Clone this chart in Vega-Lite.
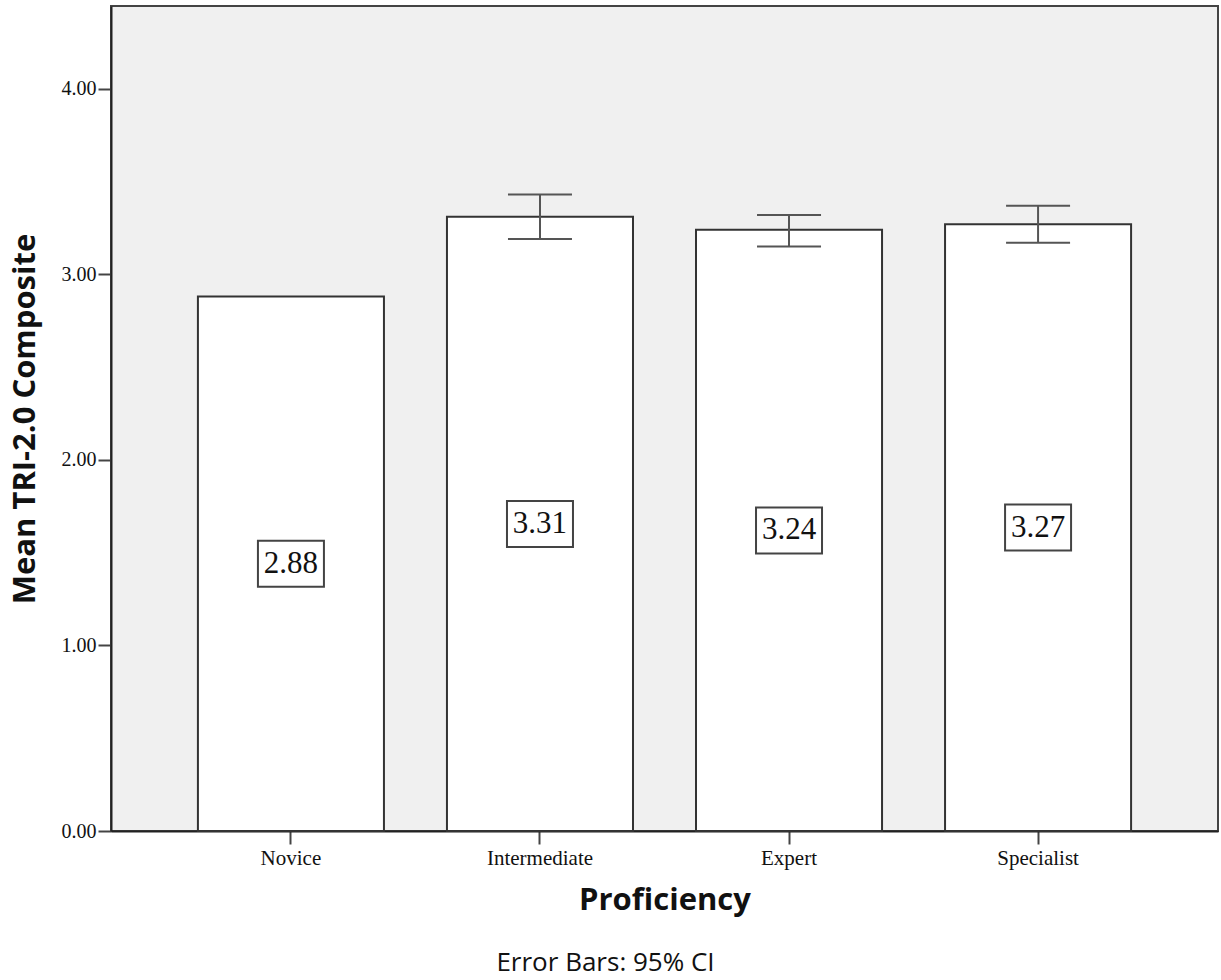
{
  "$schema": "https://vega.github.io/schema/vega-lite/v6.json",
  "autosize": {"type": "none"},
  "width": 1107,
  "height": 825,
  "padding": {"left": 111, "top": 6, "right": 3, "bottom": 149},
  "background": "white",
  "data": {"values": [
    {"Proficiency": "Novice", "mean": 2.88, "lo": null, "hi": null},
    {"Proficiency": "Intermediate", "mean": 3.31, "lo": 3.19, "hi": 3.43},
    {"Proficiency": "Expert", "mean": 3.24, "lo": 3.15, "hi": 3.32},
    {"Proficiency": "Specialist", "mean": 3.27, "lo": 3.17, "hi": 3.37}
  ]},
  "title": {
    "text": "Error Bars: 95% CI",
    "orient": "bottom",
    "anchor": "middle",
    "frame": "bounds",
    "font": "Open Sans",
    "fontSize": 26,
    "fontWeight": "normal",
    "color": "#111",
    "offset": 35,
    "dx": -8
  },
  "encoding": {
    "x": {
      "field": "Proficiency",
      "type": "nominal",
      "sort": ["Novice", "Intermediate", "Expert", "Specialist"],
      "scale": {"paddingInner": 0.253, "paddingOuter": 0.349},
      "axis": {
        "title": "Proficiency",
        "labelAngle": 0,
        "labelFont": "Liberation Serif",
        "labelFontSize": 21,
        "labelColor": "#111",
        "labelPadding": 3,
        "tickSize": 13,
        "tickWidth": 2,
        "tickColor": "#444",
        "domainColor": "#222",
        "domainWidth": 2,
        "titleFont": "Open Sans",
        "titleFontSize": 31,
        "titleFontWeight": "bold",
        "titleColor": "#111",
        "titlePadding": 17
      }
    }
  },
  "layer": [
    {
      "mark": {"type": "bar", "fill": "white", "stroke": "#333", "strokeWidth": 2},
      "encoding": {
        "y": {
          "field": "mean",
          "type": "quantitative",
          "scale": {"domain": [0, 4.446], "nice": false, "zero": true},
          "axis": {
            "title": "Mean TRI-2.0 Composite",
            "values": [0, 1, 2, 3, 4],
            "format": ".2f",
            "grid": false,
            "labelFont": "Liberation Serif",
            "labelFontSize": 20,
            "labelColor": "#111",
            "labelPadding": 2,
            "tickSize": 13,
            "tickWidth": 2,
            "tickColor": "#444",
            "domainColor": "#222",
            "domainWidth": 2,
            "titleFont": "Open Sans",
            "titleFontSize": 31,
            "titleFontWeight": "bold",
            "titleColor": "#111",
            "titlePadding": 20
          }
        }
      }
    },
    {
      "transform": [{"filter": "datum.lo != null"}],
      "mark": {"type": "rule", "stroke": "#555", "strokeWidth": 2},
      "encoding": {
        "y": {"field": "lo", "type": "quantitative"},
        "y2": {"field": "hi"}
      }
    },
    {
      "transform": [{"filter": "datum.lo != null"}],
      "mark": {"type": "tick", "color": "#555", "size": 64, "thickness": 2, "opacity": 1},
      "encoding": {"y": {"field": "lo", "type": "quantitative"}}
    },
    {
      "transform": [{"filter": "datum.hi != null"}],
      "mark": {"type": "tick", "color": "#555", "size": 64, "thickness": 2, "opacity": 1},
      "encoding": {"y": {"field": "hi", "type": "quantitative"}}
    },
    {
      "transform": [{"calculate": "datum.mean / 2", "as": "mid"}],
      "mark": {"type": "point", "shape": "M-1,-0.697H1V0.697H-1Z", "size": 4356, "filled": false, "fill": "white", "fillOpacity": 1, "stroke": "#444", "strokeWidth": 2, "opacity": 1},
      "encoding": {"y": {"field": "mid", "type": "quantitative"}}
    },
    {
      "transform": [{"calculate": "datum.mean / 2", "as": "mid"}],
      "mark": {"type": "text", "font": "Liberation Serif", "fontSize": 31, "color": "#111", "baseline": "middle", "align": "center"},
      "encoding": {
        "y": {"field": "mid", "type": "quantitative"},
        "text": {"field": "mean", "type": "quantitative", "format": ".2f"}
      }
    }
  ],
  "config": {
    "view": {"fill": "#f0f0f0", "stroke": "#444", "strokeWidth": 2}
  }
}
